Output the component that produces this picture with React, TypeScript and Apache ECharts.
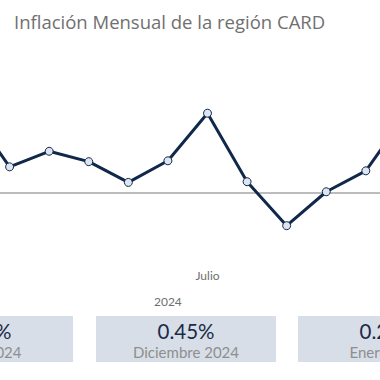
import React, { useEffect, useRef } from "react";
import * as echarts from "echarts";

const months = [
  "Enero", "Febrero", "Marzo", "Abril", "Mayo", "Junio", "Julio",
  "Agosto", "Septiembre", "Octubre", "Noviembre", "Diciembre", "Enero",
];
const years = ["2024", "2024", "2024", "2024", "2024", "2024", "2024", "2024", "2024", "2024", "2024", "2024", "2025"];
const inflation = [0.48, 0.15, 0.24, 0.18, 0.06, 0.185, 0.46, 0.064, -0.19, 0.006, 0.127, 0.45, 0.25];
const shownMonthLabels = ["Julio"];
const yearLabelIndex = 5;

const cardValues = ["0.48%", "0.45%", "0.25%"];
const cardLabels = ["Enero 2024", "Diciembre 2024", "Enero 2025"];

const FONT = "Lato, 'Open Sans', sans-serif";
const SHIFT = 33;
const FULL_W = 481;

export default function App() {
  const ref = useRef<HTMLDivElement>(null);
  useEffect(() => {
    if (!ref.current) return;
    const chart = echarts.init(ref.current, null, { renderer: "svg" });
    const cardX = [-107, 96, 298].map((x) => x + SHIFT);
    const cardW = 180;
    const cardY = 316;
    const cardH = 46;
    const graphics: any[] = [];
    cardValues.forEach((v, i) => {
      graphics.push({
        type: "rect",
        shape: { x: cardX[i], y: cardY, width: cardW, height: cardH },
        style: { fill: "#d7dee7" },
        silent: true,
      });
      graphics.push({
        type: "text",
        x: cardX[i] + cardW / 2,
        y: 331,
        style: {
          text: v,
          fill: "#1b2a47",
          font: `20.5px ${FONT}`,
          textAlign: "center",
          textVerticalAlign: "middle",
        },
      });
      graphics.push({
        type: "text",
        x: cardX[i] + cardW / 2,
        y: 352,
        style: {
          text: cardLabels[i],
          fill: "#8e8e8e",
          font: `15px ${FONT}`,
          textAlign: "center",
          textVerticalAlign: "middle",
        },
      });
    });

    chart.setOption({
      animation: false,
      title: {
        text: "Inflación Mensual de la región CARD",
        left: 9 + SHIFT,
        top: 7,
        textStyle: { fontFamily: "'Open Sans', Lato, sans-serif", fontSize: 18.5, fontWeight: "normal", color: "#707070" },
      },
      grid: { left: 0, right: 0, top: 89, bottom: 118, containLabel: false },
      xAxis: [
        {
          type: "category",
          data: months,
          boundaryGap: false,
          axisLine: { show: false, onZero: false },
          axisTick: { show: false },
          axisLabel: {
            interval: 0,
            margin: 7,
            color: "#6f6f6f",
            fontFamily: FONT,
            fontSize: 12,
            formatter: (v: string, idx: number) => (shownMonthLabels.includes(v) && idx < 12 ? v : ""),
          },
        },
        {
          type: "category",
          data: years,
          position: "bottom",
          offset: 26,
          boundaryGap: false,
          axisLine: { show: false, onZero: false },
          axisTick: { show: false },
          axisLabel: {
            interval: 0,
            margin: 7,
            color: "#6f6f6f",
            fontFamily: FONT,
            fontSize: 12,
            formatter: (v: string, idx: number) => (idx === yearLabelIndex ? v : ""),
          },
        },
      ],
      yAxis: {
        type: "value",
        min: -0.4,
        max: 0.6,
        show: false,
        splitLine: { show: false },
      },
      series: [
        {
          type: "line",
          data: inflation,
          symbol: "circle",
          symbolSize: 8,
          lineStyle: { color: "#10284a", width: 3 },
          itemStyle: { color: "#dde5f0", borderColor: "#10284a", borderWidth: 1 },
          z: 3,
          markLine: {
            silent: true,
            symbol: ["none", "none"],
            label: { show: false },
            lineStyle: { color: "#bcbcbc", width: 2, type: "solid" },
            data: [{ yAxis: 0 }],
            z: 1,
          },
        },
      ],
      graphic: graphics,
    });
    return () => chart.dispose();
  }, []);
  return (
    <div
      style={{ position: "fixed", left: 0, top: 0, width: 380, height: 380, overflow: "hidden", background: "#fff" }}
    >
      <div
        ref={ref}
        style={{ position: "absolute", left: -SHIFT, top: 0, width: FULL_W, height: 380 }}
      />
    </div>
  );
}
